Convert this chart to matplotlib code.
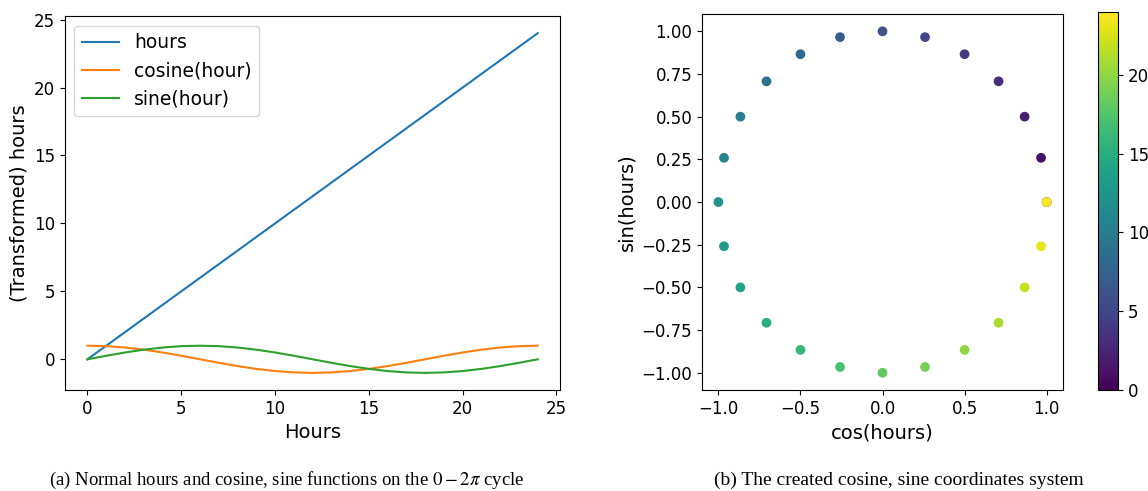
import matplotlib.pyplot as plt

# hours of the day and their cyclic encoding
hours = list(range(0, 25))
cos_hours = [1.0, 0.966, 0.866, 0.707, 0.5, 0.259, 0.0, -0.259, -0.5, -0.707, -0.866, -0.966,
             -1.0, -0.966, -0.866, -0.707, -0.5, -0.259, 0.0, 0.259, 0.5, 0.707, 0.866, 0.966, 1.0]
sin_hours = [0.0, 0.259, 0.5, 0.707, 0.866, 0.966, 1.0, 0.966, 0.866, 0.707, 0.5, 0.259,
             0.0, -0.259, -0.5, -0.707, -0.866, -0.966, -1.0, -0.966, -0.866, -0.707, -0.5, -0.259, 0.0]

caption_a = '(a) Normal hours and cosine, sine functions on the $0-2\\pi$ cycle'
caption_b = '(b) The created cosine, sine coordinates system'

fig = plt.figure(figsize=(11.48, 4.91), dpi=100)
ax1 = fig.add_axes([0.0566, 0.206, 0.4314, 0.761])
ax2 = fig.add_axes([0.6115, 0.206, 0.3145, 0.765])
cax = fig.add_axes([0.9565, 0.206, 0.0175, 0.770])

# left: raw hours and transformed hours
ax1.plot(hours, hours, color='tab:blue', label='hours')
ax1.plot(hours, cos_hours, color='tab:orange', label='cosine(hour)')
ax1.plot(hours, sin_hours, color='tab:green', label='sine(hour)')
ax1.set_xlabel('Hours', fontsize=14)
ax1.set_ylabel('(Transformed) hours', fontsize=14)
ax1.tick_params(labelsize=12)
ax1.legend(loc='upper left', fontsize=13.5)

# right: points on the unit circle, coloured by hour
sc = ax2.scatter(cos_hours, sin_hours, c=hours, cmap='viridis', s=36)
ax2.set_xlabel('cos(hours)', fontsize=14)
ax2.set_ylabel('sin(hours)', fontsize=14)
ax2.tick_params(labelsize=12)
cb = fig.colorbar(sc, cax=cax)
cb.ax.tick_params(labelsize=12)

fig.text(0.250, 0.012, caption_a, ha='center', fontsize=13.5, family='Liberation Serif',
         math_fontfamily='stix')
fig.text(0.783, 0.012, caption_b, ha='center', fontsize=14, family='Liberation Serif')

fig.savefig('out.png', dpi=100)
